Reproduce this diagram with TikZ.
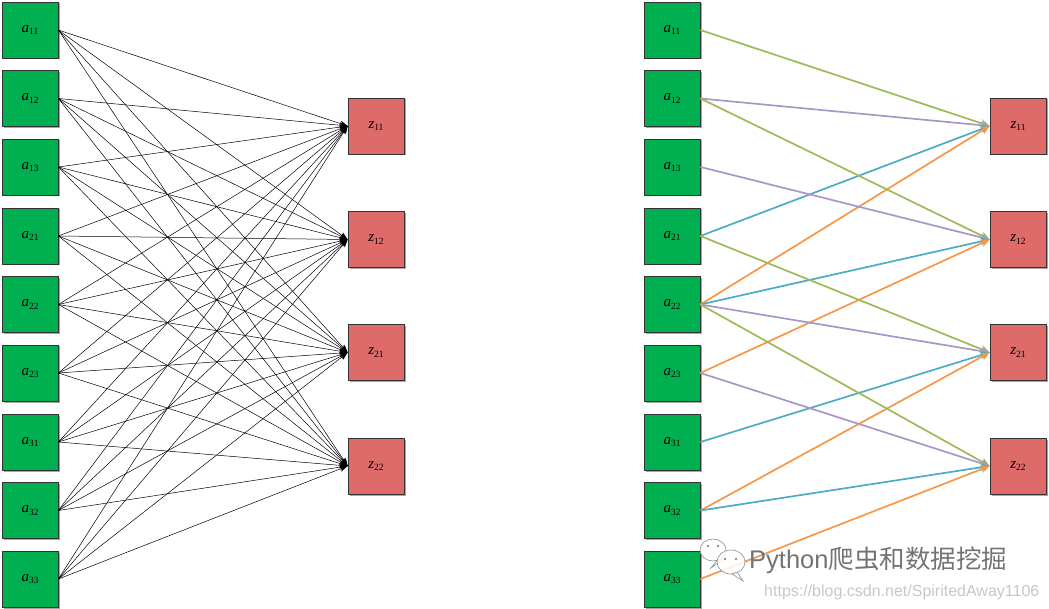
\documentclass[tikz,border=0pt]{standalone}
\usepackage{fontspec}
\setmainfont{Liberation Serif}
\newfontfamily\cjkfont{Noto Sans CJK SC}
\newfontfamily\wmfont{Liberation Sans}
\usetikzlibrary{arrows.meta}
\definecolor{gbox}{HTML}{00B050}
\definecolor{rbox}{HTML}{DF6A6A}
\definecolor{wA}{HTML}{9BBB59}
\definecolor{wB}{HTML}{A897C6}
\definecolor{wC}{HTML}{4BACC6}
\definecolor{wD}{HTML}{F79646}
\newcommand{\lbl}[2]{\textit{#1}\raisebox{-0.35ex}{\fontsize{9.5}{9.5}\selectfont #2}}
\begin{document}
\begin{tikzpicture}[x=1pt,y=-1pt,
  boxbase/.style={draw=black!80, line width=0.8pt, minimum size=56pt, inner sep=0pt,
    font=\fontsize{15}{15}\selectfont},
  inbox/.style={boxbase, fill=gbox},
  outbox/.style={boxbase, fill=rbox},
  blink/.style={line width=0.5pt, black, -{Stealth[length=8pt,width=6pt]}},
  clink/.style={line width=1.7pt, draw=#1, -{Stealth[length=9pt,width=8pt]}},
]
\useasboundingbox (0,0) rectangle (1049,609);
% left and right input columns
\foreach \n/\y in {11/30,12/98.5,13/167,21/236,22/304.5,23/373,31/442,32/510.5,33/579}{
  \fill[black!35] (3.5,\y-26.5) rectangle (59.5,\y+29.5);
  \node[inbox] (La\n) at (30,\y) {\lbl{a}{\n}};
  \fill[black!35] (645.5,\y-26.5) rectangle (701.5,\y+29.5);
  \node[inbox] (Ra\n) at (672,\y) {\lbl{a}{\n}};
}
\foreach \n/\y in {11/126,12/239.5,21/352.5,22/466}{
  \fill[black!35] (349.5,\y-26.5) rectangle (405.5,\y+29.5);
  \node[outbox] (Lz\n) at (376,\y) {\lbl{z}{\n}};
  \fill[black!35] (991.5,\y-26.5) rectangle (1047.5,\y+29.5);
  \node[outbox] (Rz\n) at (1018,\y) {\lbl{z}{\n}};
}
\foreach \a in {11,12,13,21,22,23,31,32,33}{
  \foreach \z in {11,12,21,22}{
    \draw[blink] (La\a.east) -- (Lz\z.west);
  }
}
% right panel
\foreach \a/\z/\c in {11/11/wA,12/11/wB,21/11/wC,22/11/wD,
                      12/12/wA,13/12/wB,22/12/wC,23/12/wD,
                      21/21/wA,22/21/wB,31/21/wC,32/21/wD,
                      22/22/wA,23/22/wB,32/22/wC,33/22/wD}{
  \draw[clink=\c] (Ra\a.east) -- (Rz\z.west);
}
% watermark
\begin{scope}[draw=black!45, line width=0.6pt, fill=white, fill opacity=0.85]
  \filldraw (713,550) ellipse (13pt and 11pt);
  \filldraw (718,559) -- (711,568) -- (722,560) -- cycle;
  \filldraw (731,562) ellipse (14pt and 12pt);
  \filldraw (737,572) -- (743,581) -- (732,574) -- cycle;
\end{scope}
\fill[black!45] (708,546) circle (1.3pt) (718,546) circle (1.3pt)
                (725,559) circle (1.3pt) (736,559) circle (1.3pt);
\node[anchor=west, inner sep=0pt, text=black!55, font=\fontsize{25.5}{25.5}\selectfont]
  (wm1) at (749,560) {{\wmfont Python}{\cjkfont 爬虫和数据挖掘}};
\node[anchor=west, inner sep=0pt, text=black!22, font=\wmfont\fontsize{16}{16}\selectfont]
  (wm2) at (764,592) {https://blog.csdn.net/SpiritedAway1106};
\end{tikzpicture}
\end{document}
